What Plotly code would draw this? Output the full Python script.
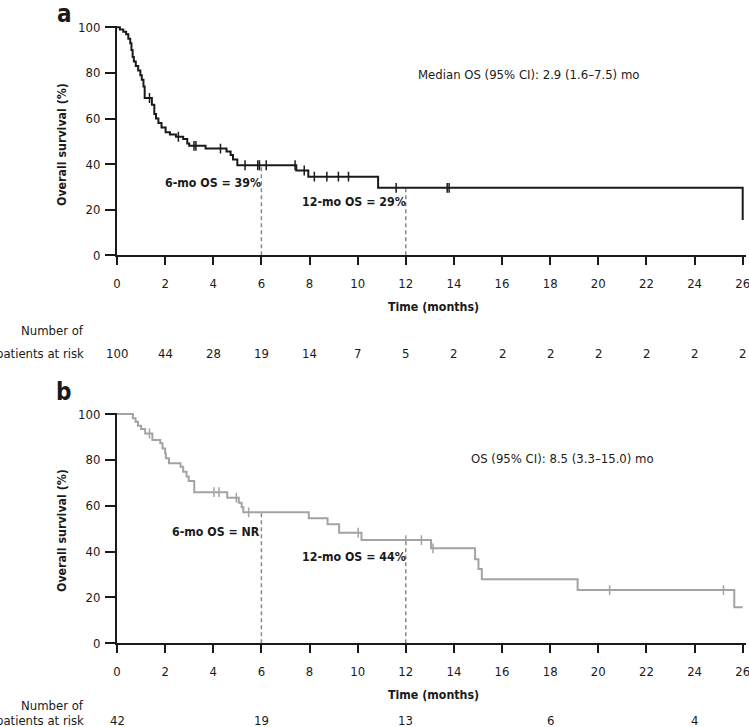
import plotly.graph_objects as go

# ---------------- data ----------------
# Panel a: Kaplan-Meier step curve (time in months, survival in %)
a_times = [0, 0.12, 0.26, 0.38, 0.47, 0.55, 0.60, 0.65, 0.70, 0.78, 0.88, 0.97,
           1.03, 1.10, 1.15, 1.45, 1.55, 1.62, 1.72, 1.85, 2.02, 2.20, 2.45,
           2.75, 2.92, 3.00, 3.68, 4.55, 4.72, 4.82, 5.00, 7.45, 7.95, 10.85, 26.0]
a_surv = [100, 99, 98, 97, 95, 93, 90, 87, 85, 83, 81, 79,
          77, 74, 69, 66, 62, 60, 58, 56, 54, 53, 52,
          51, 49, 48, 46.8, 45.5, 44, 42, 39.5, 37.2, 34.5, 29.6, 15.5]
a_censor = [1.35, 2.55, 3.20, 3.28, 4.30, 5.32, 5.85, 5.92, 6.20, 7.40, 7.78,
            8.20, 8.72, 9.20, 9.62, 11.60, 13.72, 13.80]

# Panel b
b_times = [0, 0.66, 0.77, 0.87, 1.00, 1.17, 1.47, 1.80, 1.89, 2.00, 2.03, 2.16,
           2.64, 2.75, 2.89, 2.98, 3.21, 4.58, 5.06, 5.18, 5.25, 7.97, 8.75,
           9.23, 10.16, 13.05, 14.88, 15.02, 15.16, 19.14, 25.65, 26.0]
b_surv = [100, 98.1, 96.6, 94.9, 93.5, 91.5, 88.7, 87.2, 85.0, 82.9, 80.7, 78.5,
          77.0, 74.8, 72.7, 70.8, 65.9, 63.5, 61.3, 59.3, 57.1, 54.5, 51.9,
          48.2, 45.0, 41.4, 36.6, 32.4, 27.9, 23.2, 15.7, 15.7]
b_censor = [1.35, 4.03, 4.24, 4.96, 5.47, 10.02, 12.0, 12.65, 13.13, 20.47, 25.2]

x_ticks = [0, 2, 4, 6, 8, 10, 12, 14, 16, 18, 20, 22, 24, 26]
y_ticks = [0, 20, 40, 60, 80, 100]

risk_a_t = [0, 2, 4, 6, 8, 10, 12, 14, 16, 18, 20, 22, 24, 26]
risk_a = [100, 44, 28, 19, 14, 7, 5, 2, 2, 2, 2, 2, 2, 2]
risk_b_t = [0, 6, 12, 18, 24]
risk_b = [42, 19, 13, 6, 4]

landmarks = [6, 12]

# ---------------- helpers ----------------
W, H = 749, 727
FONT = "DejaVu Sans Condensed, DejaVu Sans, sans-serif"
BLACK = "#1a1a1a"
GRAY = "#a3a3a3"
FS = 13      # regular text size
FB = 12.3    # bold label size


def surv_at(times, surv, t):
    idx = max(i for i, tt in enumerate(times) if tt <= t)
    return surv[idx]


def px(x):
    return x / W


def py(y):
    return (H - y) / H


X0, X26 = 117.0, 742.7
XMAX = 26.15
ppm = (X26 - X0) / 26.0
xdom = [px(X0), px(X0 + XMAX * ppm)]

YMAX = 100.6
a_y0, a_y100 = 255.3, 27.3
b_y0, b_y100 = 643.3, 414.0
a_dom = [py(a_y0), py(a_y0 - (a_y0 - a_y100) * YMAX / 100)]
b_dom = [py(b_y0), py(b_y0 - (b_y0 - b_y100) * YMAX / 100)]

fig = go.Figure()

panels = [
    ("x", "y", a_times, a_surv, a_censor, BLACK),
    ("x2", "y2", b_times, b_surv, b_censor, GRAY),
]
for xa, ya, tt, ss, cc, col in panels:
    for lm in landmarks:
        v = surv_at(tt, ss, lm)
        fig.add_trace(go.Scatter(x=[lm, lm], y=[0, v], xaxis=xa, yaxis=ya,
                                 mode="lines", showlegend=False, hoverinfo="skip",
                                 line=dict(color="#8a8a8a", width=1.5, dash="4px,3px")))
    fig.add_trace(go.Scatter(x=tt, y=ss, xaxis=xa, yaxis=ya, mode="lines",
                             line=dict(color=col, width=2, shape="hv"),
                             showlegend=False))
    fig.add_trace(go.Scatter(x=cc, y=[surv_at(tt, ss, c) for c in cc], xaxis=xa, yaxis=ya,
                             mode="markers", showlegend=False,
                             marker=dict(symbol="line-ns", size=7,
                                         line=dict(color=col, width=1.5))))

axis_common = dict(showgrid=False, zeroline=False, showline=True, linecolor=BLACK,
                   linewidth=2, ticks="outside", tickwidth=2, tickcolor=BLACK,
                   automargin=False, ticklabeloverflow="allow",
                   tickfont=dict(family=FONT, size=FS, color=BLACK))

fig.update_layout(
    width=W, height=H, margin=dict(l=0, r=0, t=0, b=0, pad=0),
    paper_bgcolor="white", plot_bgcolor="white",
    font=dict(family=FONT, size=FS, color=BLACK),
    xaxis=dict(domain=xdom, range=[0, XMAX], tickvals=x_ticks, ticklen=8, anchor="y",
               ticklabelstandoff=7, **axis_common),
    yaxis=dict(domain=a_dom, range=[0, YMAX], tickvals=y_ticks, ticklen=10, anchor="x",
               ticklabelstandoff=2, **axis_common),
    xaxis2=dict(domain=xdom, range=[0, XMAX], tickvals=x_ticks, ticklen=8, anchor="y2",
                ticklabelstandoff=7, **axis_common),
    yaxis2=dict(domain=b_dom, range=[0, YMAX], tickvals=y_ticks, ticklen=10, anchor="x2",
                ticklabelstandoff=2, **axis_common),
)

ann = []


def add_text(text, x, y, size=FS, bold=False, xanchor="center", angle=0, xref="paper", yref="paper"):
    ann.append(dict(text=f"<b>{text}</b>" if bold else text, x=x, y=y, xref=xref, yref=yref,
                    xanchor=xanchor, yanchor="middle", showarrow=False, textangle=angle,
                    font=dict(family=FONT, size=size, color=BLACK)))


# panel letters
add_text("a", px(64), py(14), size=24, bold=True)
add_text("b", px(63), py(392), size=24, bold=True)

# axis titles
add_text("Overall survival (%)", px(62), py(144), size=FB, bold=True, angle=-90)
add_text("Overall survival (%)", px(62), py(530), size=FB, bold=True, angle=-90)
add_text("Time (months)", px(434), py(307), size=FB, bold=True)
add_text("Time (months)", px(434), py(695), size=FB, bold=True)

# in-plot annotations
add_text("Median OS (95% CI): 2.9 (1.6\u20137.5) mo", px(528), py(74))
add_text("6-mo OS = 39%", px(213), py(183), size=FB, bold=True)
add_text("12-mo OS = 29%", px(354), py(202), size=FB, bold=True)
add_text("OS (95% CI): 8.5 (3.3\u201315.0) mo", px(562), py(458))
add_text("6-mo OS = NR", px(216), py(532), size=FB, bold=True)
add_text("12-mo OS = 44%", px(354), py(557), size=FB, bold=True)

# risk tables
add_text("Number of", px(86), py(330), xanchor="right")
add_text("patients at risk", px(86), py(353), xanchor="right")
for t, n in zip(risk_a_t, risk_a):
    add_text(str(n), t, py(353), xref="x")
add_text("Number of", px(86), py(705), xanchor="right")
add_text("patients at risk", px(86), py(720), xanchor="right")
for t, n in zip(risk_b_t, risk_b):
    add_text(str(n), t, py(720), xref="x2")

fig.update_layout(annotations=ann)
fig.write_html("out.html", config={"displayModeBar": False},
               post_script="document.body.style.margin='0px';document.body.style.overflow='hidden';")
